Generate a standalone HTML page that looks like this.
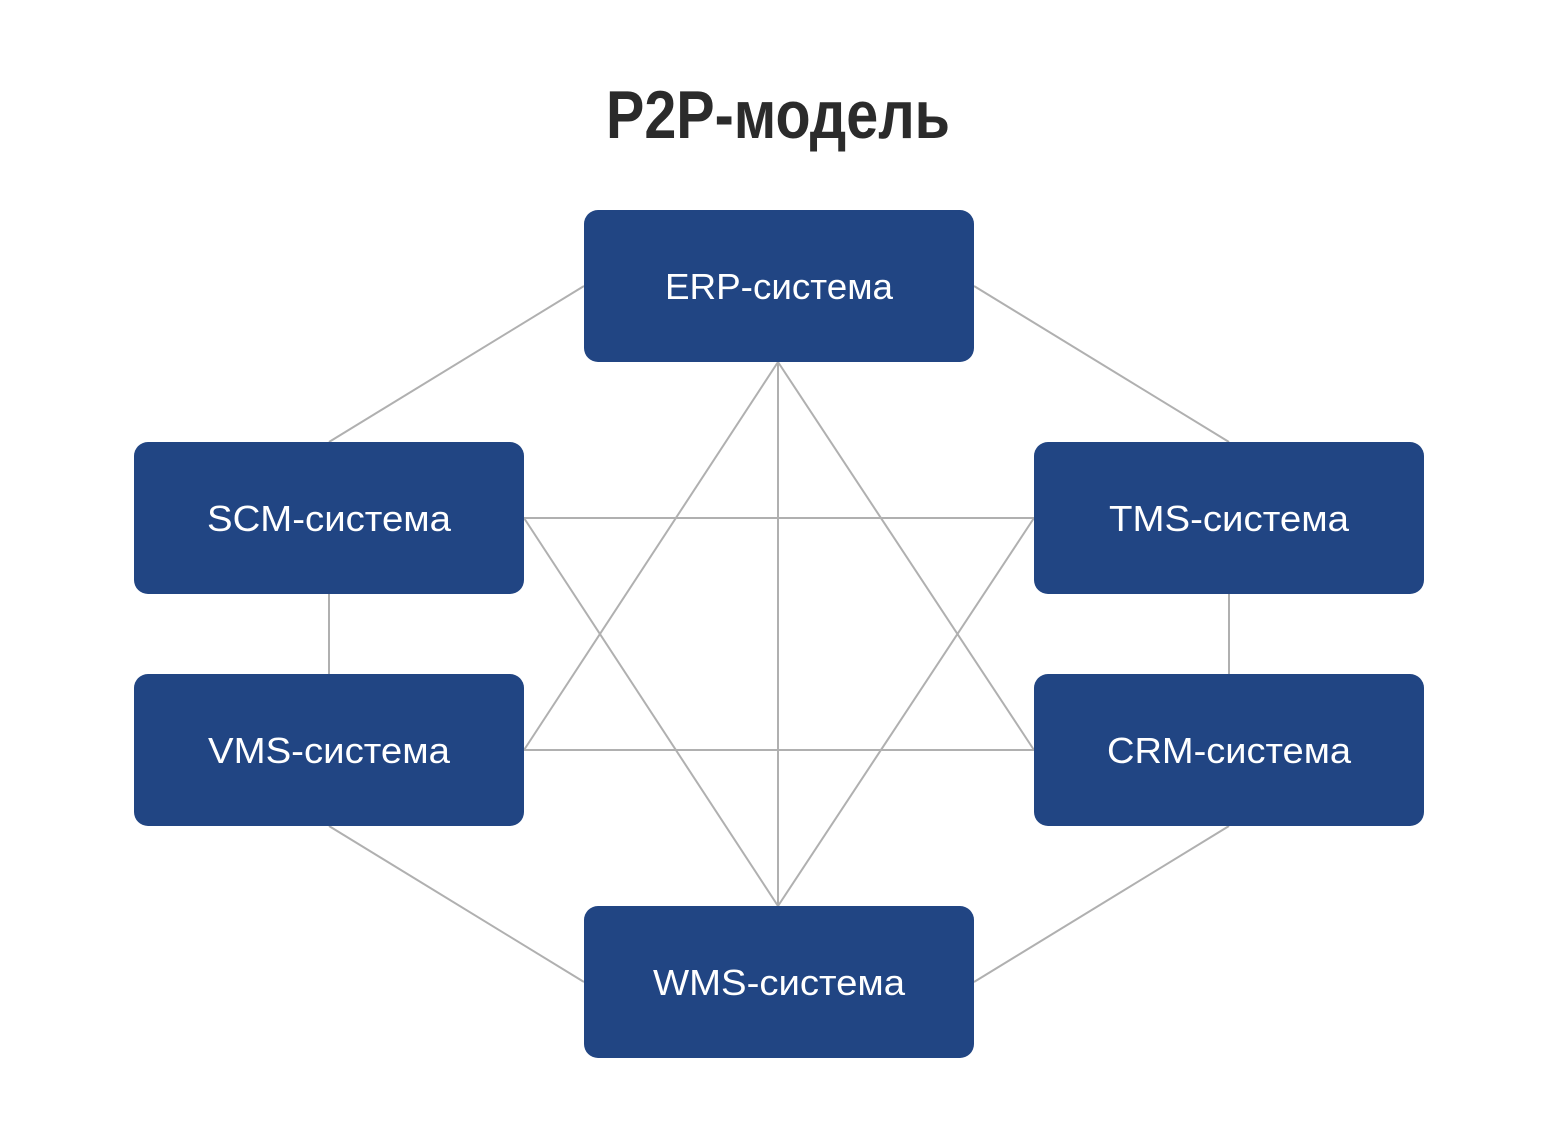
<!DOCTYPE html>
<html><head><meta charset="utf-8"><style>html,body{margin:0;padding:0;background:#fff}svg{display:block}</style></head>
<body>
<svg width="1556" height="1138" viewBox="0 0 1556 1138" xmlns="http://www.w3.org/2000/svg">
<rect width="1556" height="1138" fill="#fff"/>
<text x="778" y="138" text-anchor="middle" font-family="Liberation Sans, sans-serif" font-weight="bold" font-size="68" fill="#2b2b2b" textLength="344" lengthAdjust="spacingAndGlyphs">P2P-модель</text>
<g stroke="#b0b0b0" stroke-width="2" fill="none">
<line x1="584" y1="286" x2="329" y2="442"/>
<line x1="974" y1="286" x2="1229" y2="442"/>
<line x1="329" y1="594" x2="329" y2="674"/>
<line x1="1229" y1="594" x2="1229" y2="674"/>
<line x1="329" y1="826" x2="584" y2="982"/>
<line x1="1229" y1="826" x2="974" y2="982"/>
<line x1="524" y1="518" x2="1034" y2="518"/>
<line x1="524" y1="750" x2="1034" y2="750"/>
<line x1="778" y1="362" x2="778" y2="906"/>
<line x1="778" y1="362" x2="524" y2="750"/>
<line x1="778" y1="362" x2="1034" y2="750"/>
<line x1="524" y1="518" x2="778" y2="906"/>
<line x1="1034" y1="518" x2="778" y2="906"/>
</g>
<g fill="#214583">
<rect x="584" y="210" width="390" height="152" rx="14"/>
<rect x="134" y="442" width="390" height="152" rx="14"/>
<rect x="1034" y="442" width="390" height="152" rx="14"/>
<rect x="134" y="674" width="390" height="152" rx="14"/>
<rect x="1034" y="674" width="390" height="152" rx="14"/>
<rect x="584" y="906" width="390" height="152" rx="14"/>
</g>
<g font-family="Liberation Sans, sans-serif" font-size="36" fill="#fff" text-anchor="middle">
<text x="779" y="299" textLength="228" lengthAdjust="spacingAndGlyphs">ERP-система</text>
<text x="329" y="531" textLength="244" lengthAdjust="spacingAndGlyphs">SCM-система</text>
<text x="1229" y="531" textLength="240" lengthAdjust="spacingAndGlyphs">TMS-система</text>
<text x="329" y="763" textLength="242" lengthAdjust="spacingAndGlyphs">VMS-система</text>
<text x="1229" y="763" textLength="244" lengthAdjust="spacingAndGlyphs">CRM-система</text>
<text x="779" y="995" textLength="252" lengthAdjust="spacingAndGlyphs">WMS-система</text>
</g>
</svg>
</body></html>
